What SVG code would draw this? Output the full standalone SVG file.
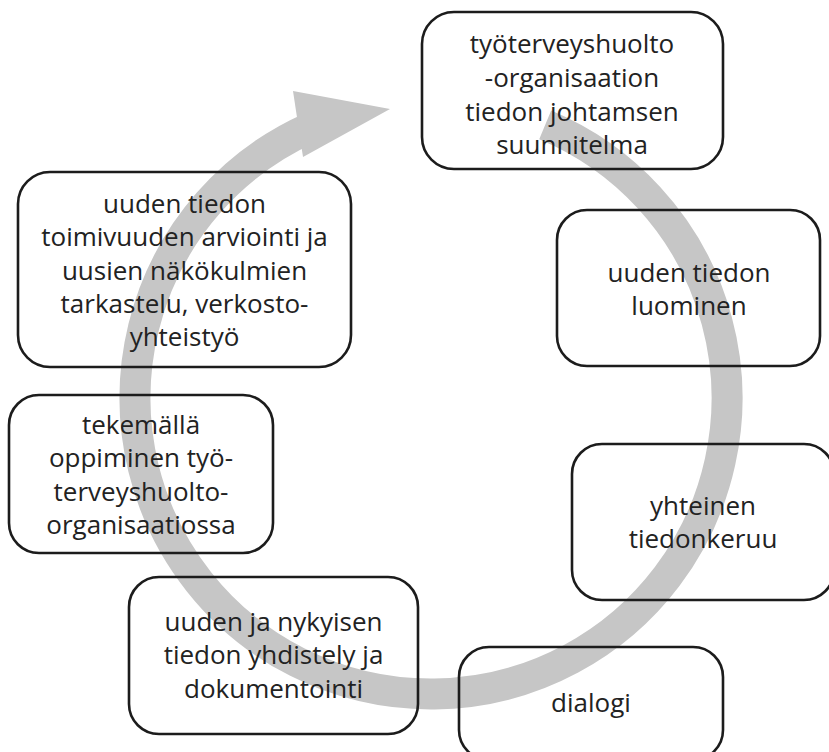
<svg xmlns="http://www.w3.org/2000/svg" width="829" height="752" viewBox="0 0 829 752">
  <style>
    .box { fill: none; stroke: #1c1c1c; stroke-width: 2.6; }
    .lbl { font-family: "Open Sans", "Noto Sans", "DejaVu Sans", sans-serif; font-size: 26px; fill: #222222; text-anchor: middle; }
    .band { fill: none; stroke: #c6c6c6; stroke-width: 31; stroke-linecap: butt; }
    .head { fill: #c6c6c6; }
  </style>
  <rect width="829" height="752" fill="#ffffff"/>

  <!-- circular cycle arrow running clockwise behind the steps -->
  <g id="connectors">
    <path class="band" d="M 545.2 124.9 A 296 296 0 1 1 310.6 127.6"/>
    <polygon class="head" points="293,91 390,109 303,157"/>
  </g>

  <g id="node-plan">
    <rect class="box" x="422" y="12" width="301" height="157" rx="32"/>
    <text class="lbl" x="572" y="53">työterveyshuolto</text>
    <text class="lbl" x="572" y="87">-organisaation</text>
    <text class="lbl" x="572" y="121">tiedon johtamsen</text>
    <text class="lbl" x="572" y="154">suunnitelma</text>
  </g>

  <g id="node-luominen">
    <rect class="box" x="557" y="210" width="263" height="156" rx="30"/>
    <text class="lbl" x="689" y="282">uuden tiedon</text>
    <text class="lbl" x="689" y="315">luominen</text>
  </g>

  <g id="node-tiedonkeruu">
    <rect class="box" x="572" y="444" width="262" height="156" rx="30"/>
    <text class="lbl" x="703" y="515">yhteinen</text>
    <text class="lbl" x="703" y="548">tiedonkeruu</text>
  </g>

  <g id="node-dialogi">
    <rect class="box" x="459" y="647" width="264" height="113" rx="30"/>
    <text class="lbl" x="591" y="712">dialogi</text>
  </g>

  <g id="node-yhdistely">
    <rect class="box" x="129" y="577" width="289" height="157" rx="30"/>
    <text class="lbl" x="273.5" y="631">uuden ja nykyisen</text>
    <text class="lbl" x="273.5" y="664">tiedon yhdistely ja</text>
    <text class="lbl" x="273.5" y="698">dokumentointi</text>
  </g>

  <g id="node-oppiminen">
    <rect class="box" x="9" y="395" width="264" height="158" rx="30"/>
    <text class="lbl" x="141" y="434">tekemällä</text>
    <text class="lbl" x="141" y="467">oppiminen työ-</text>
    <text class="lbl" x="141" y="501">terveyshuolto-</text>
    <text class="lbl" x="141" y="534">organisaatiossa</text>
  </g>

  <g id="node-arviointi">
    <rect class="box" x="18" y="172" width="333" height="195" rx="32"/>
    <text class="lbl" x="184.5" y="213">uuden tiedon</text>
    <text class="lbl" x="184.5" y="246">toimivuuden arviointi ja</text>
    <text class="lbl" x="184.5" y="280">uusien näkökulmien</text>
    <text class="lbl" x="184.5" y="313">tarkastelu, verkosto-</text>
    <text class="lbl" x="184.5" y="346">yhteistyö</text>
  </g>
</svg>
